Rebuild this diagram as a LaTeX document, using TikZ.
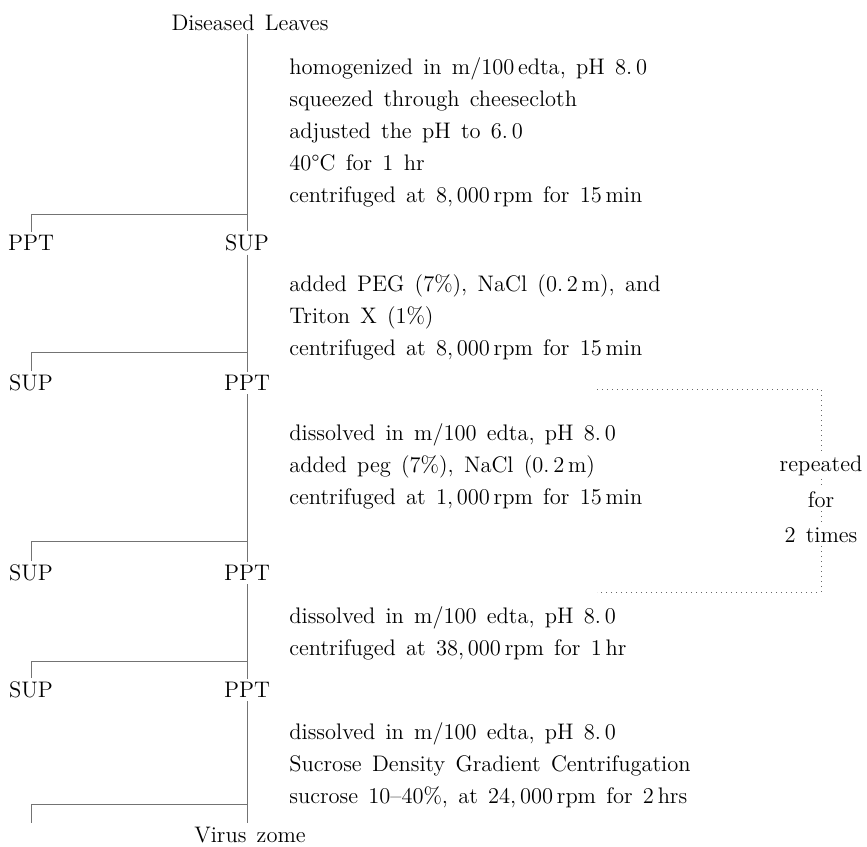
\documentclass[tikz,border=0pt]{standalone}
\usepackage{fontspec}
\setmainfont{Latin Modern Roman}[WordSpace=1.4]
\usepackage{tikz}
\usetikzlibrary{positioning}

\begin{document}
\begin{tikzpicture}[x=0.5pt, y=-0.5pt,
  lbl/.style={inner sep=1.5pt, font=\fontsize{11.25}{13}\selectfont},
  proc/.style={anchor=west, align=left, inner sep=0pt, font=\fontsize{11.25}{16}\selectfont},
  flow/.style={draw=black!55, line width=0.4pt},
  rep/.style={draw=black!60, line width=0.5pt, dotted},
]
\useasboundingbox (0,0) rectangle (867,846);

% fractions
\node[lbl] (leaves) at (250,23)  {Diseased Leaves};
\node[lbl] (ppt1)   at (31,243)  {PPT};
\node[lbl] (sup1)   at (247,243) {SUP};
\node[lbl] (sup2)   at (31,383)  {SUP};
\node[lbl] (ppt2)   at (247,383) {PPT};
\node[lbl] (sup3)   at (31,573)  {SUP};
\node[lbl] (ppt3)   at (247,573) {PPT};
\node[lbl] (sup4)   at (31,690)  {SUP};
\node[lbl] (ppt4)   at (247,690) {PPT};
\node[lbl] (virus)  at (250,835) {Virus zome};

% steps
\node[proc] (step1) at (289,132) {homogenized in m/100\,edta, pH 8.\,0\\
  squeezed through cheesecloth\\
  adjusted the pH to 6.\,0\\
  40°C for 1 hr\\
  centrifuged at 8,\,000\,rpm for 15\,min};
\node[proc] (step2) at (289,317) {added PEG (7\%), NaCl (0.\,2\,m), and\\
  Triton X (1\%)\\
  centrifuged at 8,\,000\,rpm for 15\,min};
\node[proc] (step3) at (289,466) {dissolved in m/100 edta, pH 8.\,0\\
  added peg (7\%), NaCl (0.\,2\,m)\\
  centrifuged at 1,\,000\,rpm for 15\,min};
\node[proc] (step4) at (289,633) {dissolved in m/100 edta, pH 8.\,0\\
  centrifuged at 38,\,000\,rpm for 1\,hr};
\node[proc] (step5) at (289,765) {dissolved in m/100 edta, pH 8.\,0\\
  Sucrose Density Gradient Centrifugation\\
  sucrose 10--40\%, at 24,\,000\,rpm for 2\,hrs};

% branch points
\coordinate (j1) at (247,214);
\coordinate (j2) at (247,352);
\coordinate (j3) at (247,541);
\coordinate (j4) at (247,661);
\coordinate (j5) at (247,804);
\coordinate (end5) at (31,823);

\draw[flow] (leaves.south -| j1) -- (sup1.north);
\draw[flow] (j1) -| (ppt1.north);
\draw[flow] (sup1.south) -- (ppt2.north);
\draw[flow] (j2) -| (sup2.north);
\draw[flow] (ppt2.south) -- (ppt3.north);
\draw[flow] (j3) -| (sup3.north);
\draw[flow] (ppt3.south) -- (ppt4.north);
\draw[flow] (j4) -| (sup4.north);
\draw[flow] (ppt4.south) -- (ppt4.south |- end5);
\draw[flow] (j5) -| (end5);

% repeat bracket
\node[lbl] (rep)   at (821,466) {repeated};
\node[lbl] (for)   at (821,500) {for};
\node[lbl] (times) at (821,535) {2 times};
\coordinate (rtl) at (597,389);
\coordinate (rtr) at (821,389);
\coordinate (rbl) at (597,592);
\coordinate (rbr) at (821,592);

\draw[rep] (rtl) -- (rtr) -- (rep.north);
\draw[rep] (rep.south) -- (for.north);
\draw[rep] (for.south) -- (times.north);
\draw[rep] (times.south) -- (rbr) -- (rbl);

\end{tikzpicture}
\end{document}
